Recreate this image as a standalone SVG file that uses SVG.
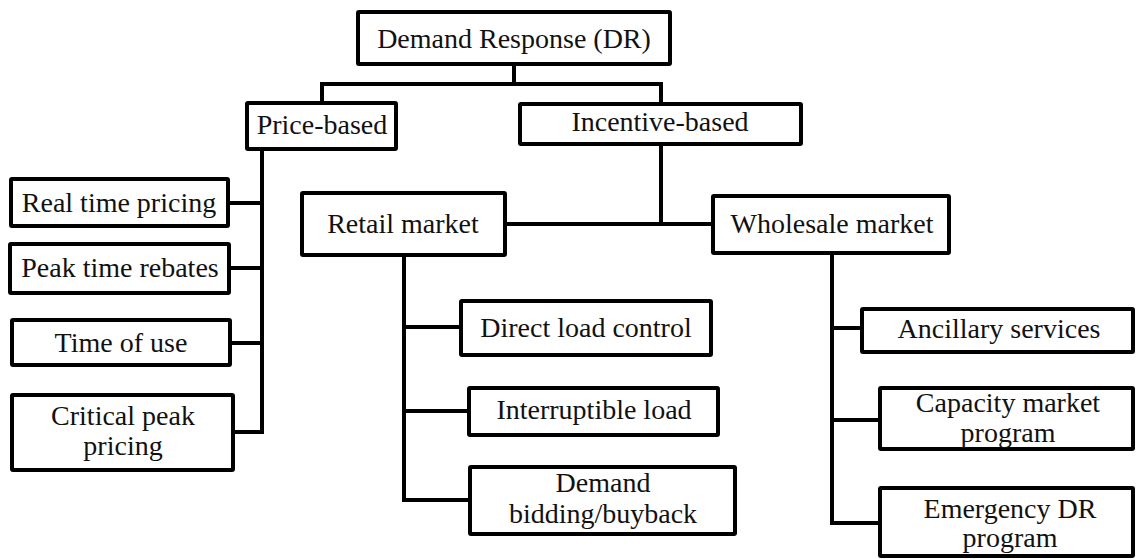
<svg xmlns="http://www.w3.org/2000/svg" width="1136" height="559" viewBox="0 0 1136 559">
<style>
.box{fill:#fff;stroke:#000;stroke-width:4;}
.lbl{font-size:28px;fill:#111;text-anchor:middle;}
.con{fill:none;stroke:#000;stroke-width:4;stroke-linejoin:miter;}
</style>
<rect width="1136" height="559" fill="#fff"/>
<g id="connectors">
<path class="con" d="M514,64V84M322,103V84H661V104"/>
<path class="con" d="M262,149V432H233M228,203H262M229,268H262M230,343H262"/>
<path class="con" d="M661,144V224M505,224H713"/>
<path class="con" d="M404,255V500H470M404,327H461M404,411H469"/>
<path class="con" d="M832,253V523H880M832,328H862M832,420H880"/>
</g>
<g font-family="'Liberation Serif', Tinos, 'Times New Roman', 'DejaVu Serif', serif">
<g id="dr"><rect class="box" x="358" y="12" width="312" height="52" rx="1"/><text class="lbl" x="514" y="48">Demand Response (DR)</text></g>
<g id="price"><rect class="box" x="247" y="103" width="149" height="46" rx="1"/><text class="lbl" x="322" y="134">Price-based</text></g>
<g id="incentive"><rect class="box" x="520" y="104" width="281" height="40" rx="1"/><text class="lbl" x="660" y="131">Incentive-based</text></g>
<g id="rtp"><rect class="box" x="11" y="179" width="217" height="47" rx="1"/><text class="lbl" x="119" y="212">Real time pricing</text></g>
<g id="ptr"><rect class="box" x="10" y="244" width="219" height="49" rx="1"/><text class="lbl" x="120" y="277">Peak time rebates</text></g>
<g id="tou"><rect class="box" x="12" y="320" width="218" height="45" rx="1"/><text class="lbl" x="121" y="352">Time of use</text></g>
<g id="cpp"><rect class="box" x="12" y="395" width="221" height="75" rx="1"/><text class="lbl" x="123" y="425">Critical peak</text><text class="lbl" x="123" y="455">pricing</text></g>
<g id="retail"><rect class="box" x="302" y="193" width="203" height="62" rx="1"/><text class="lbl" x="403" y="233">Retail market</text></g>
<g id="wholesale"><rect class="box" x="713" y="196" width="236" height="57" rx="1"/><text class="lbl" x="832" y="233">Wholesale market</text></g>
<g id="dlc"><rect class="box" x="461" y="301" width="250" height="54" rx="1"/><text class="lbl" x="586" y="337">Direct load control</text></g>
<g id="il"><rect class="box" x="469" y="388" width="249" height="47" rx="1"/><text class="lbl" x="594" y="419">Interruptible load</text></g>
<g id="dbb"><rect class="box" x="470" y="467" width="265" height="67" rx="1"/><text class="lbl" x="603" y="492">Demand</text><text class="lbl" x="603" y="523">bidding/buyback</text></g>
<g id="anc"><rect class="box" x="862" y="309" width="271" height="43" rx="1"/><text class="lbl" x="999" y="338">Ancillary  services</text></g>
<g id="cap"><rect class="box" x="880" y="388" width="253" height="61" rx="1"/><text class="lbl" x="1008" y="412">Capacity market</text><text class="lbl" x="1008" y="442">program</text></g>
<g id="edr"><rect class="box" x="880" y="488" width="253" height="68" rx="1"/><text class="lbl" x="1010" y="518">Emergency DR</text><text class="lbl" x="1010" y="547">program</text></g>
</g>
</svg>
